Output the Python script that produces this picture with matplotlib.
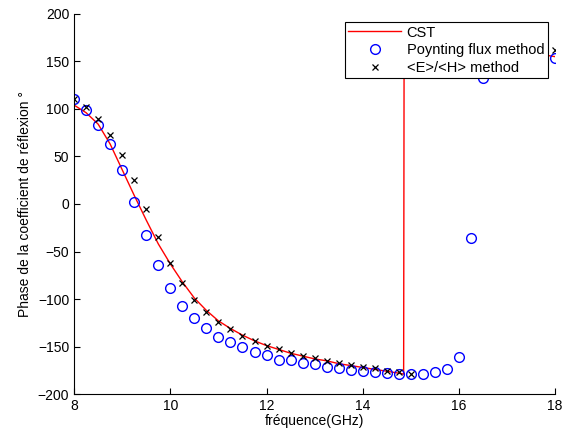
import numpy as np
import matplotlib.pyplot as plt

plt.rcParams['font.family'] = ['Liberation Sans', 'DejaVu Sans']

freq = np.arange(8, 18.001, 0.25)

poynting = [110.5, 99, 83, 63, 36, 2, -33, -64, -88, -107, -120, -130, -140,
            -145, -150, -156, -159, -164, -164, -167, -168, -171, -173, -175,
            -176, -177, -178, -179, -179, -179, -177, -174, -161, -36, 133,
            145, 150, 152, 153, 153, 154]

eh = [110, 102, 89, 73, 52, 25, -5, -35, -62, -83, -101, -114, -124, -132,
      -139, -144, -149.5, -153, -157, -160, -162, -165, -167, -169.5, -171.5,
      -173, -175.5, -177, -179, 178, 176, 174, 172, 170, 168, 167, 166, 165,
      164, 163, 162]

cst_f = [8.0, 8.25, 8.5, 8.75, 9.0, 9.25, 9.5, 9.75, 10.0, 10.25, 10.5, 10.75,
         11.0, 11.25, 11.5, 11.75, 12.0, 12.25, 12.5, 12.75, 13.0, 13.25, 13.5,
         13.75, 14.0, 14.25, 14.5, 14.75, 14.85, 14.86, 15.5, 16.0, 16.5, 17.0,
         17.5, 18.0]
cst = [104, 96, 84, 63, 36, 9, -17, -42, -63, -82, -99, -112, -123, -131,
       -138, -144, -149, -153, -157, -160, -163, -165, -168, -170, -172, -174,
       -176, -178, -179, 178, 172, 168, 165, 162, 159, 155]

fig = plt.figure(figsize=(5.7, 4.34), dpi=100)
ax = fig.add_axes([0.130, 0.092, 0.844, 0.876])

ax.plot(cst_f, cst, color='red', lw=1, label='CST')
ax.plot(freq, poynting, 'o', mfc='none', mec='blue', ms=7, mew=1,
        label='Poynting flux method')
ax.plot(freq, eh, 'x', color='black', ms=5, mew=0.9,
        label='<E>/<H> method')

ax.set_xlim(8, 18)
ax.set_ylim(-200, 200)
ax.set_xticks([8, 10, 12, 14, 16, 18])
ax.set_yticks(range(-200, 201, 50))
ax.spines['top'].set_visible(False)
ax.spines['right'].set_visible(False)
ax.tick_params(direction='in', length=4, labelsize=10)
ax.set_xlabel('fréquence(GHz)', fontsize=10, labelpad=1)
ax.set_ylabel('Phase de la coefficient de réflexion °', fontsize=10)

leg = ax.legend(loc='upper right', bbox_to_anchor=(0.985, 0.979), fontsize=10.5,
                fancybox=False, framealpha=1, edgecolor='black',
                borderpad=0.25, labelspacing=0.25, handlelength=3.6,
                handletextpad=0.4, borderaxespad=0)
leg.get_frame().set_linewidth(0.8)

fig.savefig('out.png', dpi=100)
